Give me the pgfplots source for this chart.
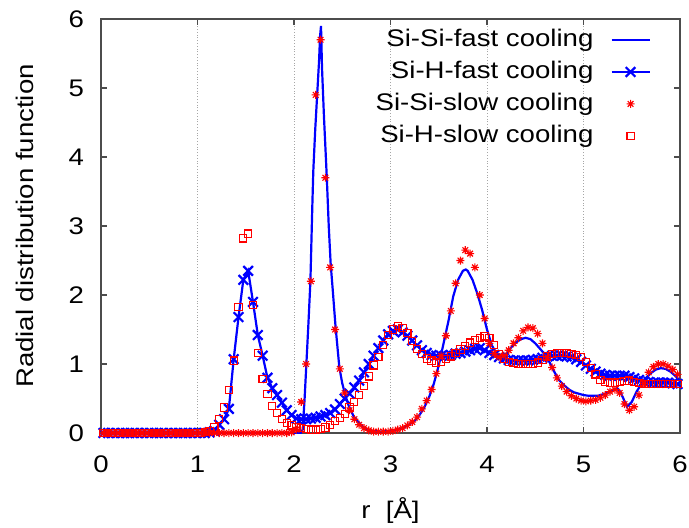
\documentclass[border=0pt]{standalone}
\usepackage{fontspec}
\setmainfont[FakeStretch=1.15]{Liberation Sans}
\usepackage{pgfplots}
\pgfplotsset{compat=1.18}

% gnuplot-like asterisk: plus and cross on top of each other
\pgfdeclareplotmark{gpstar}{%
  \pgfpathmoveto{\pgfqpoint{-\pgfplotmarksize}{0pt}}%
  \pgfpathlineto{\pgfqpoint{\pgfplotmarksize}{0pt}}%
  \pgfpathmoveto{\pgfqpoint{0pt}{-\pgfplotmarksize}}%
  \pgfpathlineto{\pgfqpoint{0pt}{\pgfplotmarksize}}%
  \pgfpathmoveto{\pgfqpoint{-0.707\pgfplotmarksize}{-0.707\pgfplotmarksize}}%
  \pgfpathlineto{\pgfqpoint{0.707\pgfplotmarksize}{0.707\pgfplotmarksize}}%
  \pgfpathmoveto{\pgfqpoint{-0.707\pgfplotmarksize}{0.707\pgfplotmarksize}}%
  \pgfpathlineto{\pgfqpoint{0.707\pgfplotmarksize}{-0.707\pgfplotmarksize}}%
  \pgfusepathqstroke}

\newcommand{\gpfont}{\fontsize{12}{14}\selectfont}

\begin{document}
\begin{tikzpicture}
\useasboundingbox (-50.5pt,-47pt) rectangle (294pt,216.5pt);
\begin{axis}[
    scale only axis,
    width=289.5pt, height=207pt,
    xmin=0, xmax=6, ymin=0, ymax=6,
    xtick={0,1,...,6}, ytick={0,1,...,6},
    xmajorgrids,
    grid style={densely dotted, gray!70, line width=0.5pt},
    axis line style={black!70, line width=0.6pt},
    tick style={black!70, line width=0.6pt},
    major tick length=3pt,
    /pgf/number format/assume math mode=true,
    tick label style={font=\gpfont},
    yticklabel style={xshift=-5pt},
    xticklabel style={yshift=-8pt},
    xlabel={r~~[Å]},
    ylabel={Radial distribution function},
    every axis x label/.style={at={(axis description cs:0.5,0)}, yshift=-39pt, anchor=center, font=\gpfont},
    every axis y label/.style={at={(axis description cs:0,0.5)}, xshift=-38pt, rotate=90, anchor=center, font=\gpfont},
    legend plot pos=right,
    legend cell align=right,
    legend image code/.code={\draw[mark repeat=2,mark phase=2] plot coordinates {(0pt,0pt) (9.5pt,0pt) (19pt,0pt)};},
    legend style={draw=none, fill=none, font=\gpfont,
        at={(axis cs:5.70,5.92)}, anchor=north east,
        inner sep=0pt, row sep=1pt, column sep=7pt,
        nodes={inner sep=1.5pt, text height=9.5pt, text depth=2.5pt}},
]

% Si-Si fast cooling
\addplot[blue, line width=1.1pt, mark=none] table {
x y
0 0
1 0
2 0
2.07 0
2.09 0.05
2.11 0.5
2.13 1.05
2.15 1.6
2.17 2.2
2.19 3.3
2.20 3.8
2.22 4.4
2.24 4.9
2.26 5.4
2.27 5.75
2.28 5.9
2.29 5.3
2.30 4.95
2.31 4.6
2.33 4.0
2.34 3.7
2.36 3.0
2.38 2.45
2.40 2.1
2.43 1.55
2.47 0.95
2.50 0.72
2.53 0.56
2.56 0.42
2.59 0.32
2.62 0.24
2.66 0.17
2.72 0.08
2.80 0.03
2.90 0.02
3.00 0.03
3.07 0.05
3.14 0.08
3.20 0.13
3.25 0.18
3.30 0.26
3.35 0.37
3.40 0.52
3.45 0.72
3.50 0.98
3.55 1.30
3.60 1.62
3.65 1.98
3.70 2.22
3.75 2.35
3.78 2.37
3.80 2.35
3.85 2.22
3.90 2.02
3.95 1.78
4.00 1.50
4.05 1.27
4.10 1.15
4.15 1.12
4.20 1.15
4.25 1.24
4.30 1.31
4.35 1.36
4.40 1.38
4.45 1.36
4.50 1.30
4.55 1.22
4.60 1.14
4.65 1.02
4.70 0.88
4.75 0.76
4.80 0.69
4.85 0.63
4.90 0.59
4.95 0.57
5.00 0.55
5.05 0.54
5.10 0.54
5.15 0.54
5.20 0.56
5.25 0.58
5.30 0.62
5.35 0.65
5.38 0.60
5.41 0.51
5.45 0.38
5.50 0.45
5.55 0.60
5.60 0.71
5.65 0.80
5.70 0.87
5.75 0.92
5.80 0.94
5.85 0.93
5.90 0.89
5.95 0.83
6.00 0.76
};
\addlegendentry{Si-Si-fast cooling}

% Si-H fast cooling
\addplot[blue, line width=1.1pt, mark=x, mark size=3.4pt] table {
x y
0.025 0
0.075 0
0.125 0
0.175 0
0.225 0
0.275 0
0.325 0
0.375 0
0.425 0
0.475 0
0.525 0
0.575 0
0.625 0
0.675 0
0.725 0
0.775 0
0.825 0
0.875 0
0.925 0
0.975 0
1.025 0
1.075 0
1.125 0.01
1.175 0.03
1.225 0.12
1.275 0.20
1.325 0.35
1.375 1.07
1.425 1.68
1.475 2.22
1.525 2.35
1.575 1.90
1.625 1.42
1.675 1.12
1.725 0.80
1.775 0.65
1.825 0.55
1.875 0.44
1.925 0.33
1.975 0.26
2.025 0.21
2.075 0.20
2.125 0.20
2.175 0.21
2.225 0.22
2.275 0.24
2.325 0.26
2.375 0.29
2.425 0.34
2.475 0.42
2.525 0.50
2.575 0.57
2.625 0.66
2.675 0.76
2.725 0.88
2.775 1.00
2.825 1.12
2.875 1.23
2.925 1.34
2.975 1.43
3.025 1.48
3.075 1.50
3.125 1.46
3.175 1.41
3.225 1.34
3.275 1.27
3.325 1.20
3.375 1.16
3.425 1.13
3.475 1.12
3.525 1.12
3.575 1.12
3.625 1.13
3.675 1.15
3.725 1.16
3.775 1.18
3.825 1.20
3.875 1.22
3.925 1.23
3.975 1.20
4.025 1.16
4.075 1.13
4.125 1.10
4.175 1.08
4.225 1.06
4.275 1.05
4.325 1.05
4.375 1.05
4.425 1.05
4.475 1.06
4.525 1.07
4.575 1.09
4.625 1.11
4.675 1.12
4.725 1.12
4.775 1.12
4.825 1.11
4.875 1.10
4.925 1.07
4.975 1.03
5.025 0.98
5.075 0.93
5.125 0.89
5.175 0.86
5.225 0.84
5.275 0.83
5.325 0.83
5.375 0.83
5.425 0.83
5.475 0.81
5.525 0.79
5.575 0.77
5.625 0.75
5.675 0.74
5.725 0.73
5.775 0.73
5.825 0.73
5.875 0.73
5.925 0.72
5.975 0.71
};
\addlegendentry{Si-H-fast cooling}

% Si-Si slow cooling
\addplot[red, only marks, mark=gpstar, mark size=2pt, line width=0.55pt] table {
x y
0.025 0
0.075 0
0.125 0
0.175 0
0.225 0
0.275 0
0.325 0
0.375 0
0.425 0
0.475 0
0.525 0
0.575 0
0.625 0
0.675 0
0.725 0
0.775 0
0.825 0
0.875 0
0.925 0
0.975 0
1.025 0
1.075 0
1.125 0
1.175 0
1.225 0
1.275 0
1.325 0
1.375 0
1.425 0
1.475 0
1.525 0
1.575 0
1.625 0
1.675 0
1.725 0
1.775 0
1.825 0
1.875 0
1.925 0
1.975 0.01
2.025 0.05
2.075 0.45
2.125 1.00
2.175 2.20
2.225 4.90
2.275 5.70
2.325 3.70
2.375 2.40
2.425 1.50
2.475 0.93
2.525 0.58
2.575 0.33
2.625 0.20
2.675 0.12
2.725 0.07
2.775 0.04
2.825 0.02
2.875 0.02
2.925 0.02
2.975 0.02
3.025 0.03
3.075 0.05
3.125 0.07
3.175 0.11
3.225 0.16
3.275 0.23
3.325 0.35
3.375 0.47
3.425 0.63
3.475 0.86
3.525 1.12
3.575 1.41
3.625 1.77
3.675 2.17
3.725 2.50
3.775 2.65
3.825 2.60
3.875 2.40
3.925 2.00
3.975 1.66
4.025 1.30
4.075 1.15
4.125 1.10
4.175 1.12
4.225 1.20
4.275 1.30
4.325 1.38
4.375 1.48
4.425 1.53
4.475 1.52
4.525 1.44
4.575 1.30
4.625 1.10
4.675 0.95
4.725 0.80
4.775 0.68
4.825 0.60
4.875 0.54
4.925 0.50
4.975 0.47
5.025 0.46
5.075 0.47
5.125 0.48
5.175 0.51
5.225 0.55
5.275 0.60
5.325 0.63
5.375 0.58
5.425 0.42
5.475 0.33
5.525 0.38
5.575 0.55
5.625 0.72
5.675 0.88
5.725 0.96
5.775 1.00
5.825 1.00
5.875 0.97
5.925 0.92
5.975 0.85
};
\addlegendentry{Si-Si-slow cooling}

% Si-H slow cooling
\addplot[red, only marks, mark=square, mark size=1.8pt, line width=0.55pt] table {
x y
0.025 0
0.075 0
0.125 0
0.175 0
0.225 0
0.275 0
0.325 0
0.375 0
0.425 0
0.475 0
0.525 0
0.575 0
0.625 0
0.675 0
0.725 0
0.775 0
0.825 0
0.875 0
0.925 0
0.975 0
1.025 0
1.075 0.01
1.125 0.03
1.175 0.08
1.225 0.20
1.275 0.37
1.325 0.62
1.375 1.05
1.425 1.83
1.475 2.82
1.525 2.89
1.575 1.86
1.625 1.16
1.675 0.78
1.725 0.57
1.775 0.39
1.825 0.29
1.875 0.20
1.925 0.15
1.975 0.11
2.025 0.09
2.075 0.07
2.125 0.06
2.175 0.05
2.225 0.05
2.275 0.06
2.325 0.08
2.375 0.12
2.425 0.17
2.475 0.22
2.525 0.28
2.575 0.37
2.625 0.45
2.675 0.55
2.725 0.68
2.775 0.82
2.825 0.98
2.875 1.10
2.925 1.28
2.975 1.42
3.025 1.50
3.075 1.55
3.125 1.52
3.175 1.45
3.225 1.33
3.275 1.22
3.325 1.15
3.375 1.08
3.425 1.05
3.475 1.02
3.525 1.03
3.575 1.07
3.625 1.11
3.675 1.16
3.725 1.21
3.775 1.26
3.825 1.31
3.875 1.35
3.925 1.38
3.975 1.40
4.025 1.38
4.075 1.28
4.125 1.15
4.175 1.08
4.225 1.03
4.275 1.01
4.325 1.00
4.375 1.00
4.425 1.00
4.475 1.00
4.525 1.02
4.575 1.06
4.625 1.11
4.675 1.15
4.725 1.16
4.775 1.16
4.825 1.16
4.875 1.15
4.925 1.13
4.975 1.10
5.025 1.03
5.075 0.94
5.125 0.85
5.175 0.77
5.225 0.74
5.275 0.73
5.325 0.73
5.375 0.74
5.425 0.75
5.475 0.76
5.525 0.74
5.575 0.72
5.625 0.71
5.675 0.71
5.725 0.71
5.775 0.71
5.825 0.71
5.875 0.71
5.925 0.71
5.975 0.71
};
\addlegendentry{Si-H-slow cooling}

\end{axis}
\end{tikzpicture}
\end{document}
